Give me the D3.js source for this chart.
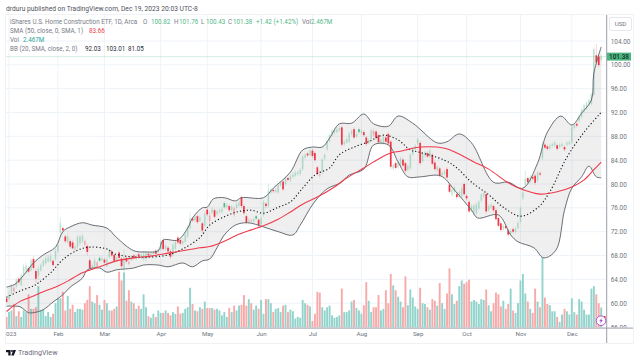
<!DOCTYPE html>
<html>
<head>
<meta charset="utf-8">
<script src="https://cdn.jsdelivr.net/npm/d3@7"></script>
<style>
  html, body { margin: 0; padding: 0; background: #fff; }
  svg { display: block; }
  text { font-family: Roboto, sans-serif; }
</style>
</head>
<body>
<svg id="chart" width="640" height="362"></svg>
<script>
// bar index 0 is Jan 3 2023, the first bar (-1) is the last session of 2022
const firstBar = -1;

const opens = [
  60.8,60.7,61.8,62.0,62.8,64.1,63.0,64.8,65.3,65.9,
  65.5,67.4,65.4,64.6,65.5,66.3,66.7,67.0,67.0,67.1,
  67.4,68.7,71.8,72.6,71.2,70.2,70.4,70.2,69.0,69.4,
  70.0,70.4,69.8,69.6,67.2,66.0,66.1,65.9,67.6,67.2,
  67.3,66.2,67.7,68.7,68.1,67.2,68.5,67.5,65.9,67.6,
  66.6,67.2,68.0,67.5,68.2,67.6,67.4,67.4,68.3,67.9,
  68.2,68.8,68.5,69.0,70.6,69.1,69.3,68.7,68.1,69.1,
  71.0,70.6,70.0,70.3,71.2,72.6,74.2,73.9,74.6,73.8,
  73.4,73.0,75.7,73.8,75.2,75.6,75.0,75.3,75.3,76.8,
  76.2,76.3,75.6,74.8,76.0,76.4,77.8,76.3,74.6,73.7,
  73.8,73.7,74.6,74.0,73.2,74.8,76.7,76.3,78.6,79.0,
  78.7,78.6,79.8,80.4,80.0,81.0,80.6,81.2,81.4,81.7,
  81.7,82.5,84.4,85.1,84.9,85.6,85.2,82.8,81.4,81.9,
  84.3,85.8,87.2,88.2,88.6,88.7,89.0,89.5,86.7,87.0,
  87.1,88.4,89.2,88.0,89.2,88.6,88.7,87.8,87.0,87.5,
  88.2,88.8,88.2,86.8,86.9,87.8,88.4,87.1,82.6,83.5,
  82.8,83.1,84.1,83.5,82.4,82.6,85.0,85.9,86.8,86.9,
  83.8,84.8,85.2,84.6,84.9,83.6,82.3,82.6,81.5,81.7,
  82.5,79.9,78.2,78.6,78.3,77.8,77.9,80.0,78.0,77.0,
  75.6,75.2,75.1,75.9,77.2,77.9,78.3,75.6,76.1,76.3,
  75.6,74.3,73.4,72.4,72.9,72.2,71.6,72.4,72.0,72.6,
  73.7,77.6,79.8,81.0,80.4,81.2,81.4,80.6,81.8,84.3,
  86.6,86.3,85.9,86.4,86.5,86.5,86.2,86.4,86.2,86.6,
  86.7,87.0,89.4,90.1,90.6,91.3,92.2,92.7,93.4,93.5,
  95.0,101.6,101.4,100.82
];
const closes = [
  60.2,61.4,62.9,62.6,63.9,63.5,64.7,66.2,66.3,65.3,
  67.2,65.9,64.1,65.8,66.4,67.1,67.5,67.7,67.9,66.4,
  68.8,69.7,73.4,72.2,70.4,71.2,69.5,69.2,69.5,71.1,
  71.2,71.3,70.4,68.6,65.9,66.4,67.2,66.8,67.1,67.5,
  66.8,67.4,68.8,68.0,67.1,67.7,67.6,66.2,67.7,67.0,
  66.9,67.8,67.6,67.9,67.8,68.1,68.3,68.4,68.0,68.3,
  68.6,68.3,69.0,70.3,69.1,69.6,68.7,67.8,69.8,70.3,
  70.2,70.0,70.4,71.5,72.7,74.2,73.9,74.5,73.6,74.4,
  72.2,75.0,74.9,74.7,75.8,74.5,75.4,75.6,75.8,76.1,
  76.5,75.6,76.2,75.9,76.6,76.9,76.3,75.1,73.5,74.0,
  73.9,74.1,74.2,73.1,74.2,77.0,76.3,78.9,79.1,78.8,
  79.0,79.8,80.2,79.1,81.0,80.7,81.3,81.6,81.9,82.0,
  82.4,84.6,84.9,84.8,85.6,84.7,84.0,81.7,81.6,84.1,
  84.9,87.1,88.2,89.0,89.1,89.2,89.4,86.6,87.1,87.5,
  88.5,88.9,87.8,88.4,88.7,88.9,88.2,86.7,87.4,89.0,
  88.9,87.7,87.0,87.4,87.9,87.1,86.8,82.9,83.2,82.7,
  83.6,84.3,83.1,82.2,83.0,84.9,85.9,86.4,87.5,83.5,
  85.0,85.3,84.6,85.6,83.4,82.5,82.9,81.4,81.9,82.1,
  81.1,78.7,79.1,79.4,77.8,78.6,79.3,78.3,77.6,75.4,
  76.3,76.4,76.6,77.0,78.2,78.4,75.4,76.3,76.5,75.6,
  74.1,73.0,72.3,73.0,72.6,71.5,72.1,72.0,72.5,73.5,
  76.0,78.6,80.9,80.3,81.2,80.9,80.2,81.9,81.6,86.8,
  86.1,85.9,86.4,86.7,87.0,85.9,86.6,86.7,85.8,86.9,
  87.0,89.5,89.9,89.8,91.3,92.5,93.2,93.6,94.1,95.0,
  102.6,100.4,99.96,101.38
];
const highs = [
  61.1,61.9,63.2,62.9,64.2,64.4,65.0,66.6,66.8,66.2,
  67.5,67.9,65.8,66.2,66.7,67.5,67.9,68.1,68.4,67.4,
  69.2,70.0,74.3,72.9,71.5,71.7,70.8,70.6,69.9,71.5,
  71.5,71.7,70.7,69.9,67.6,66.8,67.7,67.1,67.9,67.9,
  67.6,67.8,69.1,69.0,68.4,68.1,68.8,67.8,69.0,67.9,
  67.8,68.1,68.3,68.2,68.5,68.4,68.7,68.7,68.6,68.6,
  68.9,69.1,69.3,70.7,71.0,69.9,69.6,69.0,70.1,70.7,
  71.3,70.9,70.8,71.8,73.1,75.4,74.5,74.9,74.9,74.8,
  73.7,75.4,76.0,75.3,76.1,75.9,75.7,75.9,76.1,77.1,
  76.8,76.6,76.5,76.2,76.9,77.3,78.1,76.6,74.9,74.3,
  74.2,74.4,74.9,74.3,74.5,77.3,77.0,80.0,79.4,79.3,
  79.3,80.1,80.5,80.7,81.3,81.2,81.6,81.9,82.2,82.3,
  82.7,85.0,85.2,85.4,85.9,85.9,85.5,83.1,82.3,84.4,
  85.2,87.4,88.5,89.3,89.4,89.6,89.7,89.8,87.4,87.8,
  88.8,89.2,89.5,88.7,89.5,89.2,89.0,88.1,87.7,89.3,
  89.3,89.1,88.5,87.7,88.2,88.1,88.7,87.4,83.5,83.8,
  83.9,84.6,84.4,83.8,83.3,85.2,86.2,86.7,87.8,87.2,
  85.3,85.6,85.5,85.9,85.2,83.9,83.2,82.9,82.2,82.4,
  82.8,80.2,79.4,79.7,78.6,78.9,79.6,80.3,78.3,77.3,
  76.6,76.7,76.9,77.3,78.5,78.7,78.6,76.6,76.8,76.6,
  75.9,74.6,73.7,73.3,73.2,72.5,72.4,72.7,72.8,73.8,
  76.3,79.0,82.2,81.3,81.5,81.5,81.7,82.2,82.1,87.1,
  86.9,86.6,86.7,87.0,87.3,86.8,86.9,87.0,86.5,87.2,
  87.3,89.8,90.2,90.4,91.6,92.8,93.5,93.9,94.4,95.3,
  102.9,103.5,101.7,101.76
];
const lows = [
  60.0,60.4,61.5,61.8,62.5,63.2,62.8,64.5,65.0,65.0,
  65.3,65.6,63.4,63.9,65.2,66.0,66.4,66.8,66.8,66.2,
  67.1,68.4,71.5,71.9,70.1,70.0,69.2,69.0,68.7,69.1,
  69.7,70.1,69.5,68.0,65.4,65.7,65.8,65.6,66.8,67.0,
  66.5,66.0,67.5,67.7,66.8,67.0,67.4,65.8,65.2,66.7,
  66.3,67.0,67.3,67.2,67.5,67.3,67.1,67.0,67.7,67.6,
  67.9,68.0,68.2,68.8,68.7,68.8,68.4,67.4,67.8,68.9,
  69.9,69.7,69.7,70.0,70.9,72.3,73.6,73.6,73.3,73.5,
  71.8,72.7,74.6,73.3,74.9,74.2,74.7,75.0,75.0,75.8,
  75.9,75.3,75.3,74.5,75.7,76.1,76.0,74.8,73.2,73.4,
  73.5,73.4,73.9,72.8,72.9,74.5,76.0,76.0,78.3,78.5,
  78.4,78.3,79.5,78.8,79.7,80.4,80.3,80.9,81.1,81.4,
  81.4,82.2,84.1,84.5,84.6,84.4,83.7,81.4,81.1,81.6,
  84.0,85.5,86.9,87.9,88.3,88.4,88.7,86.3,86.4,86.7,
  86.8,88.1,87.5,87.7,88.4,88.3,87.9,86.4,86.7,87.2,
  87.9,87.4,86.7,86.5,86.6,86.8,86.5,82.5,82.3,82.4,
  82.5,82.8,82.8,81.9,82.1,82.3,84.7,85.6,86.5,83.2,
  83.5,84.5,84.3,84.3,83.1,82.2,82.0,81.1,81.2,81.4,
  80.8,78.4,77.9,78.3,77.5,77.5,77.6,78.0,77.3,75.1,
  75.3,74.9,74.8,75.6,76.9,77.6,75.0,75.3,75.8,75.3,
  73.8,72.7,72.0,72.1,72.3,71.1,71.3,71.7,71.7,72.3,
  73.4,77.3,79.5,80.0,80.1,80.6,79.9,80.3,81.3,84.0,
  85.8,85.6,85.6,86.1,86.2,85.6,85.9,86.1,85.5,86.3,
  86.4,86.7,89.1,89.5,90.3,91.0,91.9,92.4,93.1,93.2,
  94.7,100.0,99.6,100.43
];
// volume in millions of shares
const volumes = [
  1.3,1.9,2.1,2.9,1.4,2.0,1.3,2.1,1.9,4.1,
  2.3,2.3,2.5,5.1,2.1,2.2,1.4,1.9,1.3,1.7,
  3.0,3.6,3.6,4.4,2.1,3.9,2.3,2.8,1.9,2.3,
  2.3,2.2,3.0,3.4,5.1,3.2,3.0,4.0,2.8,2.2,
  3.4,3.0,2.1,2.1,2.3,2.6,6.9,5.8,6.8,3.3,
  4.6,3.2,3.0,2.3,2.7,2.3,4.1,2.5,1.4,1.2,
  1.7,1.3,2.1,1.8,1.8,2.1,1.8,1.5,1.9,1.7,
  2.6,1.7,1.8,2.3,2.5,4.9,2.9,2.1,2.0,2.5,
  2.3,3.2,2.4,2.4,2.4,2.2,2.3,2.1,1.5,1.9,
  1.3,2.4,1.9,2.7,2.1,2.7,2.8,4.0,2.7,3.5,
  3.0,2.2,2.7,2.3,3.4,1.7,3.5,3.5,3.0,1.9,
  2.3,2.4,1.9,2.7,2.8,1.9,2.2,2.0,1.1,1.3,
  1.2,3.4,3.0,2.8,2.6,0.8,1.7,4.4,4.3,2.5,
  2.1,2.5,2.7,1.5,1.2,1.3,1.5,4.8,1.9,1.9,
  2.1,3.2,3.4,2.4,2.1,1.7,2.75,5.6,3.3,1.9,
  2.5,2.5,4.0,2.1,2.3,4.6,3.0,6.6,5.2,4.6,
  3.8,3.2,2.5,6.3,2.75,4.7,3.7,2.6,2.3,4.9,
  3.0,2.9,2.5,2.2,3.5,3.3,2.7,5.5,3.0,2.3,
  4.2,7.3,4.1,2.9,3.3,5.1,5.8,5.4,5.6,5.9,
  3.2,3.4,3.2,2.9,3.5,3.4,4.7,2.75,2.0,3.0,
  4.3,4.1,2.6,3.3,2.3,2.9,4.8,2.1,1.8,3.0,
  5.8,6.6,4.2,3.2,2.3,1.8,4.8,3.2,2.5,8.7,
  3.7,2.9,2.75,2.0,2.0,1.3,0.7,1.6,2.3,2.0,
  1.6,3.6,1.9,1.6,3.5,3.2,2.2,1.6,1.6,4.8,
  5.1,4.1,3.0,2.467
];

// indicator lines, [bar index, price]
const sma50 = [[-1,58.6],[4.5,60.3],[10,61.2],[14,61.9],[20,62.9],[24,63.7],[30,65.1],[37,66.1],[44,67.1],[51,67.6],[58,67.9],[65,68.4],[71,68.8],[78,69.3],[82,69.5],[88,70.4],[93,71.4],[99,72.3],[104,73.0],[110,74.1],[115,75.3],[120,76.6],[126,77.8],[133,79.5],[138,81.0],[145,82.7],[151,84.2],[156,85.2],[160,85.5],[164,85.9],[168,86.2],[178,86.0],[183,85.2],[190,83.7],[196,82.5],[204,80.2],[209,79.2],[217,78.3],[224,78.7],[230,79.5],[235,80.7],[239,82.4],[242,83.66]];
const bbBasis = [[-1,61.0],[4.5,62.05],[10,62.9],[12,63.4],[17,65.1],[22,67.3],[28,68.9],[33,69.4],[40,69.1],[43,68.3],[51,67.75],[58,67.75],[65,68.1],[71,69.1],[78,71.0],[82,73.1],[88,74.5],[93,75.3],[99,75.6],[104,75.1],[110,76.1],[115,77.0],[120,79.3],[125,81.5],[131,82.7],[135,84.9],[141,86.2],[147,87.1],[153,88.2],[159,87.4],[164,85.7],[167,85.4],[178,84.0],[183,82.7],[189,80.3],[196,78.2],[202,76.1],[209,74.6],[216,76.0],[221,78.7],[228,84.5],[235,88.7],[242,92.03]];
const bbUpper = [[-1,62.7],[2.5,63.2],[6,64.7],[10,66.75],[14,68.1],[19,69.4],[22,72.0],[25,72.8],[30,73.5],[34,73.1],[40,72.6],[44,71.0],[51,68.8],[56,68.6],[61,68.8],[63,70.6],[69,70.6],[73,72.6],[75,74.3],[79,76.0],[81,76.1],[83.5,77.5],[88,77.7],[92.5,77.15],[95,77.7],[104,77.7],[108,79.3],[115,82.0],[120,85.7],[124,86.2],[128,86.2],[131,87.7],[135,90.1],[140,90.2],[145,91.75],[149,90.1],[155,89.7],[159,91.4],[165,90.2],[175,86.9],[179,87.1],[184,88.4],[189,86.9],[198,80.3],[204,80.3],[210,79.3],[216,83.5],[220,88.7],[225.5,91.4],[230,89.9],[234,91.9],[238,94.1],[239,98.6],[242,103.01]];
const bbLower = [[-1,59.5],[2.5,59.5],[4.5,59.4],[8,58.4],[10,58.4],[14,58.9],[18,60.2],[22,61.4],[25,62.7],[30,64.2],[32,65.6],[37,65.9],[40,65.2],[44,65.6],[51,65.9],[55,66.4],[61,66.4],[65,66.1],[71,66.75],[75,66.1],[79,67.1],[82,67.4],[85,69.3],[88,71.45],[92.5,73.1],[97.5,73.5],[104,72.8],[110,72.0],[116,71.45],[119,73.1],[124.5,76.8],[130,79.2],[135.5,80.2],[139,81.5],[145,82.5],[149,86.55],[155,86.55],[159,83.7],[163,81.2],[168,81.2],[176.5,81.35],[182,79.0],[189,75.6],[191.5,74.3],[200,74.8],[205,71.45],[208,70.3],[214.5,69.3],[218.5,67.6],[223.5,68.9],[227,75.6],[230,79.3],[234,81.2],[237,83.0],[240,81.2],[242,81.05]];

const priceTicks = [104,100,96,92,88,84,80,76,72,68,64,60,56];
const monthTicks = [0,20,39,62,81,103,124,144,167,187,209,230];
const monthLabels = ['2023','Feb','Mar','Apr','May','Jun','Jul','Aug','Sep','Oct','Nov','Dec'];
const lastClose = 101.38;

const legendRows = [
  { y: 24, parts: [
    ['iShares U.S. Home Construction ETF, 1D, Arca', 10, 'label'],
    ['O', 143, 'label'], ['100.82', 151, 'up'], ['H', 174, 'label'], ['101.76', 179, 'up'],
    ['L', 201, 'label'], ['100.43', 206, 'up'], ['C', 228, 'label'], ['101.38', 233, 'up'],
    ['+1.42 (+1.42%)', 256, 'up'], ['Vol', 302, 'label'], ['2.467M', 311, 'up']
  ]},
  { y: 33, parts: [['SMA (50, close, 0, SMA, 1)', 10, 'label'], ['83.66', 89, 'sma']] },
  { y: 42, parts: [['Vol', 10, 'label'], ['2.467M', 23, 'vol']] },
  { y: 51, parts: [['BB (20, SMA, close, 2, 0)', 10, 'label'], ['92.03', 85, 'dark'], ['103.01', 106, 'dark'], ['81.05', 128, 'dark']] }
];

const colors = {
  grid: '#eef3f8', axisLine: '#9a9ea8', axisText: '#6f7480',
  up: '#52b788', down: '#f23645',
  volUp: '#92d3cb', volDown: '#f8a9a9',
  band: '#787b86', bandLine: '#5a5d63', sma: '#ee3a4c',
  label: '#787b86', dark: '#2a2e39', vol: '#26a69a'
};

const svg = d3.select('#chart');
const left = 6, axisX = 606.7, right = 633, paneTop = 15, paneBottom = 343, baseline = 327.5;

const x = d3.scaleLinear().domain([0, 242]).range([9, 601.2]);
const y = d3.scaleLinear().domain([56, 104]).range([327, 41]);
const v = d3.scaleLinear().domain([0, 8.7]).range([baseline, 257]);

const defs = svg.append('defs');
defs.append('clipPath').attr('id', 'plot').append('rect')
  .attr('x', left).attr('y', paneTop).attr('width', axisX - left).attr('height', baseline - paneTop);
defs.append('clipPath').attr('id', 'timeClip').append('rect')
  .attr('x', left).attr('y', baseline).attr('width', axisX - left).attr('height', paneBottom - baseline);
defs.append('clipPath').attr('id', 'priceClip').append('rect')
  .attr('x', axisX).attr('y', paneTop).attr('width', right - axisX).attr('height', baseline - paneTop);

// grid
const grid = svg.append('g').attr('stroke', colors.grid).attr('stroke-width', 1);
grid.selectAll('.h').data(priceTicks).join('line').attr('class', 'h')
  .attr('x1', left).attr('x2', axisX)
  .attr('y1', d => y(d)).attr('y2', d => y(d));
grid.selectAll('.v').data(monthTicks).join('line').attr('class', 'v')
  .attr('x1', d => x(d)).attr('x2', d => x(d))
  .attr('y1', paneTop).attr('y2', baseline);

// pane frame
const frame = svg.append('g').attr('stroke', '#f0f2f6').attr('fill', 'none');
frame.append('rect').attr('x', left - 0.5).attr('y', paneTop - 0.5)
  .attr('width', right - left + 1).attr('height', paneBottom - paneTop + 1);

const bars = closes.map((c, i) => ({
  i: i + firstBar, o: opens[i], h: highs[i], l: lows[i], c, vol: volumes[i],
  rising: i === 0 ? c >= opens[i] : c >= closes[i - 1]
}));

const plot = svg.append('g').attr('clip-path', 'url(#plot)');

// volume behind everything
plot.append('g').selectAll('rect').data(bars).join('rect')
  .attr('x', d => x(d.i) - 0.95)
  .attr('width', 1.9)
  .attr('y', d => v(d.vol))
  .attr('height', d => baseline - v(d.vol))
  .attr('fill', d => d.rising ? colors.volUp : colors.volDown);

// bollinger band
const line = d3.line().x(d => x(d[0])).y(d => y(d[1])).curve(d3.curveCatmullRom.alpha(0.5));
const bandPath = line(bbUpper) + 'L' + line(bbLower.slice().reverse()).slice(1) + 'Z';
plot.append('path').attr('d', bandPath).attr('fill', colors.band).attr('fill-opacity', 0.12);

// last price line
plot.append('line').attr('x1', left).attr('x2', axisX)
  .attr('y1', y(lastClose)).attr('y2', y(lastClose))
  .attr('stroke', colors.up).attr('stroke-opacity', 0.3).attr('stroke-width', 0.8);

// hollow candles: colour follows the previous close, body is hollow when close > open
const candles = plot.append('g');
candles.selectAll('line').data(bars).join('line')
  .attr('x1', d => x(d.i)).attr('x2', d => x(d.i))
  .attr('y1', d => y(d.h)).attr('y2', d => y(d.l))
  .attr('stroke', d => d.rising ? colors.up : colors.down)
  .attr('stroke-opacity', 0.28)
  .attr('stroke-width', 0.8);
candles.selectAll('rect').data(bars).join('rect')
  .attr('x', d => x(d.i) - 0.85)
  .attr('width', 1.7)
  .attr('y', d => y(Math.max(d.o, d.c)))
  .attr('height', d => Math.max(0.8, Math.abs(y(d.o) - y(d.c))))
  .attr('fill', d => d.rising ? colors.up : colors.down)
  .attr('fill-opacity', d => d.c > d.o ? 0.27 : 1);

// indicator lines
plot.append('path').attr('d', line(bbUpper)).attr('fill', 'none').attr('stroke', colors.bandLine).attr('stroke-width', 0.9);
plot.append('path').attr('d', line(bbLower)).attr('fill', 'none').attr('stroke', colors.bandLine).attr('stroke-width', 0.9);
plot.append('path').attr('d', line(bbBasis)).attr('fill', 'none').attr('stroke', '#111')
  .attr('stroke-width', 1.1).attr('stroke-dasharray', '1.2 2.2');
plot.append('path').attr('d', line(sma50)).attr('fill', 'none').attr('stroke', colors.sma).attr('stroke-width', 1.1);

// axes
const priceAxis = svg.append('g').attr('clip-path', 'url(#priceClip)').append('g')
  .attr('transform', `translate(${axisX},0)`)
  .call(d3.axisRight(y).tickValues(priceTicks).tickSize(0).tickPadding(4).tickFormat(d3.format('.2f')));
priceAxis.select('.domain').remove();
priceAxis.selectAll('text').attr('fill', colors.axisText).attr('font-size', 6.4);

const timeAxis = svg.append('g').attr('clip-path', 'url(#timeClip)').append('g')
  .attr('transform', `translate(0,${baseline})`)
  .call(d3.axisBottom(x).tickValues(monthTicks).tickSize(0).tickPadding(4.5)
    .tickFormat((d, i) => monthLabels[i]));
timeAxis.select('.domain').remove();
timeAxis.selectAll('text').attr('fill', colors.axisText).attr('font-size', 6.2);

svg.append('line').attr('x1', axisX).attr('x2', axisX).attr('y1', paneTop).attr('y2', paneBottom)
  .attr('stroke', colors.axisLine).attr('stroke-width', 1);
svg.append('line').attr('x1', left).attr('x2', right).attr('y1', baseline + 0.6).attr('y2', baseline + 0.6)
  .attr('stroke', colors.axisLine).attr('stroke-width', 1);

// currency box and last price tag
svg.append('rect').attr('x', 609.5).attr('y', 17.5).attr('width', 22).attr('height', 13).attr('rx', 1.5)
  .attr('fill', '#fff').attr('stroke', '#e6e8ee');
svg.append('text').attr('x', 620.5).attr('y', 26).attr('text-anchor', 'middle')
  .attr('font-size', 6.2).attr('fill', colors.axisText).text('USD');
svg.append('rect').attr('x', 607).attr('y', y(lastClose) - 4).attr('width', 24).attr('height', 8)
  .attr('fill', '#4db582');
svg.append('text').attr('x', 619).attr('y', y(lastClose) + 2.3).attr('text-anchor', 'middle')
  .attr('font-size', 6.4).attr('font-weight', 500).attr('fill', '#10301f').text(lastClose.toFixed(2));

// lightning badge
const badge = svg.append('g').attr('transform', 'translate(601,320.7)');
badge.append('circle').attr('r', 4.8).attr('fill', '#fff').attr('stroke', '#a855c8').attr('stroke-width', 1);
badge.append('path').attr('d', 'M0.8,-3 L-1.8,0.5 L-0.2,0.5 L-0.8,3 L1.8,-0.6 L0.2,-0.6 Z').attr('fill', '#a855c8');
badge.append('circle').attr('cx', 3.8).attr('cy', -3.6).attr('r', 1).attr('fill', '#f23645');

// text block on top
svg.append('text').attr('x', 6).attr('y', 11).attr('font-size', 6.7).attr('fill', '#50535e')
  .text('drduru published on TradingView.com, Dec 19, 2023 20:03 UTC-8');

const legendFill = { label: colors.label, up: colors.up, sma: colors.sma, vol: colors.vol, dark: colors.dark };
const legend = svg.append('g').attr('font-size', 6.3);
legendRows.forEach(row => {
  legend.append('g').selectAll('text').data(row.parts).join('text')
    .attr('x', d => d[1]).attr('y', row.y)
    .attr('fill', d => legendFill[d[2]])
    .text(d => d[0]);
});

// TradingView mark at the bottom
const mark = svg.append('g').attr('transform', 'translate(6,350)').attr('fill', '#131722');
mark.append('path').attr('d', 'M0,0 H4.6 V5.4 H2.3 V2.2 H0 Z');
mark.append('circle').attr('cx', 6).attr('cy', 1).attr('r', 1);
mark.append('path').attr('d', 'M7.4,0 H10 L7.8,5.4 H5.2 Z');
svg.append('text').attr('x', 18).attr('y', 355.2).attr('font-size', 7.2).attr('fill', '#6a6d78').text('TradingView');
</script>
</body>
</html>
